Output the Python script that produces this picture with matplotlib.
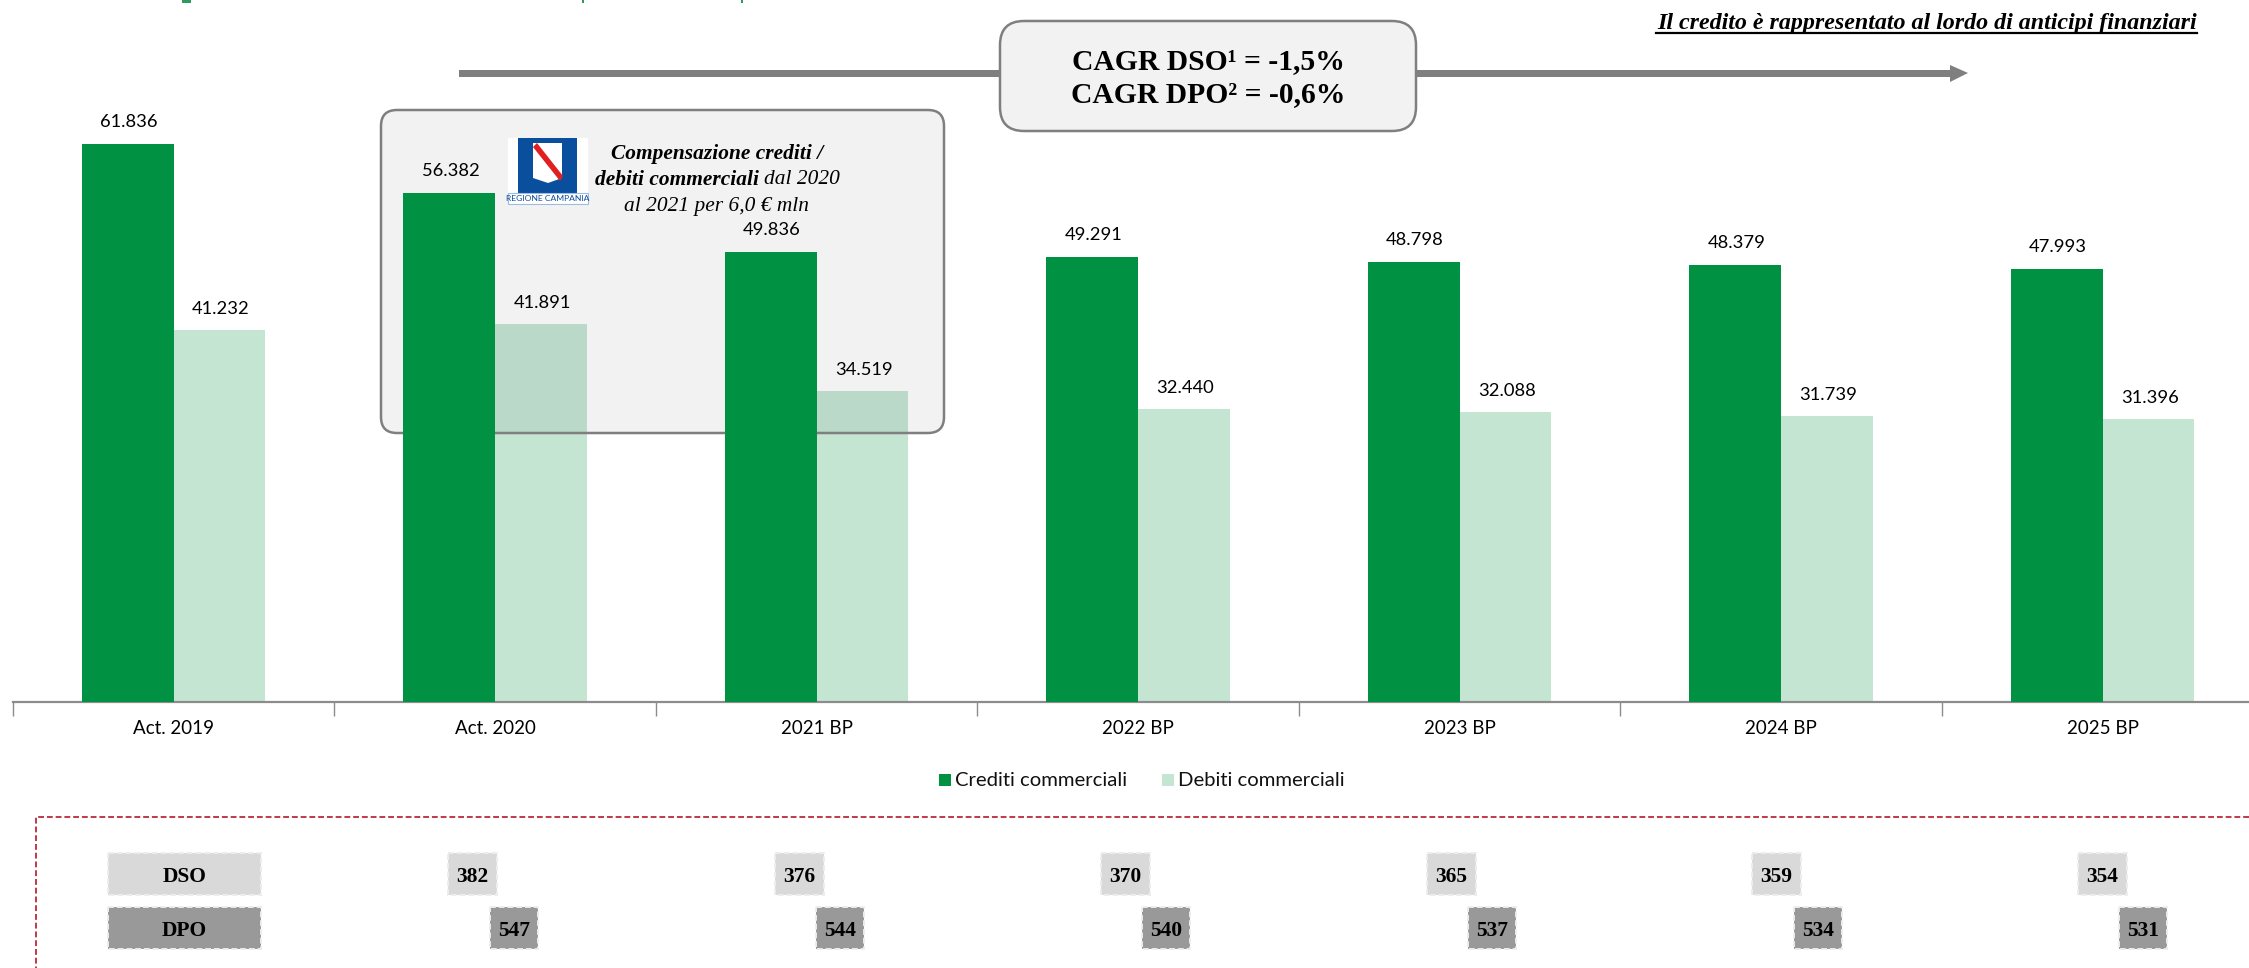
import matplotlib
matplotlib.use("Agg")
import matplotlib.pyplot as plt
from matplotlib.patches import FancyBboxPatch, Rectangle, Polygon

W, H = 2249, 968

categories = ["Act. 2019", "Act. 2020", "2021 BP", "2022 BP", "2023 BP", "2024 BP", "2025 BP"]
crediti = [61836, 56382, 49836, 49291, 48798, 48379, 47993]
debiti = [41232, 41891, 34519, 32440, 32088, 31739, 31396]
dso = [382, 376, 370, 365, 359, 354]
dpo = [547, 544, 540, 537, 534, 531]

GREEN = "#009142"
LIGHT = "#C5E5D3"
SERIF = "Liberation Serif"
SANS = "Lato"

fig = plt.figure(figsize=(W / 100, H / 100), dpi=100)

# overlay in pixel coords (y down), for the slide shapes around the chart
ov = fig.add_axes([0, 0, 1, 1], zorder=2)
ov.set_xlim(0, W)
ov.set_ylim(H, 0)
ov.axis("off")
ov.patch.set_alpha(0)

# chart axes: baseline at y=702 px, first tick at x=12.8 px
x0, step = 12.8, 321.5
base = 702
ax = fig.add_axes([x0 / W, (H - base) / H, (W - x0) / W, base / H], zorder=1)
ax.set_xlim(-0.5, (W - x0) / step - 0.5)
ax.set_ylim(0, base / 0.009024)
ax.patch.set_alpha(0)
for s in ["top", "left", "right"]:
    ax.spines[s].set_visible(False)
ax.spines["bottom"].set_color("#8c8c8c")
ax.spines["bottom"].set_linewidth(1.6)
ax.set_yticks([])

w = 0.286
xs = list(range(len(categories)))
ax.bar([x + w / 2 for x in xs], debiti, w, color=LIGHT, zorder=1)
ax.bar([x - w / 2 for x in xs], crediti, w, color=GREEN, zorder=3)

for x, v in zip(xs, crediti):
    ax.annotate(f"{v:,}".replace(",", "."), (x - w / 2, v), xytext=(1.5, 22), textcoords="offset pixels",
                ha="center", va="center", family=SANS, fontsize=13.2, color="black", zorder=6)
for x, v in zip(xs, debiti):
    ax.annotate(f"{v:,}".replace(",", "."), (x + w / 2, v), xytext=(1.5, 21), textcoords="offset pixels",
                ha="center", va="center", family=SANS, fontsize=13.2, color="black", zorder=6)

ax.set_xticks([x - 0.5 for x in xs])
ax.set_xticklabels([])
ax.tick_params(axis="x", length=10, width=1, color="#8c8c8c")
for x, c in zip(xs, categories):
    ax.annotate(c, (x, 0), xytext=(0, -27), textcoords="offset pixels", ha="center", va="center",
                family=SANS, fontsize=13.5, color="black")

# callout box sits over the light bars but under the dark ones
box = FancyBboxPatch((393, 122), 539, 299, boxstyle="round,pad=12,rounding_size=16",
                     transform=ov.transData, facecolor=(0, 0, 0, 0.05), edgecolor="#7f7f7f",
                     linewidth=1.8, zorder=2)
ax.add_patch(box)

# legend
for lx, col, txt, tx in [(939, GREEN, "Crediti commerciali", 955), (1162, LIGHT, "Debiti commerciali", 1178)]:
    ov.add_patch(Rectangle((lx, 774), 12, 12, facecolor=col, edgecolor="none"))
    ov.text(tx, 780, txt, ha="left", va="center", family=SANS, fontsize=14.6, color="#111111")

# what is left of the cropped slide title
for mx, mw in [(182, 9), (582, 2), (741, 2)]:
    ov.add_patch(Rectangle((mx, 0), mw, 3, facecolor="#2E9A5C", edgecolor="none"))

# top arrow
ov.add_patch(Rectangle((458.5, 70), 1495, 6.5, facecolor="#7f7f7f", edgecolor="none"))
ov.add_patch(Polygon([(1950, 65), (1968, 73), (1950, 82)], facecolor="#7f7f7f", edgecolor="none"))
ov.add_patch(FancyBboxPatch((1022, 43), 372, 66, boxstyle="round,pad=22,rounding_size=24",
                            facecolor="#F2F2F2", edgecolor="#7f7f7f", linewidth=1.8))
ov.text(1208, 62, "CAGR DSO¹ = -1,5%", ha="center", va="center", family=SERIF, weight="bold",
        fontsize=21.3, color="black")
ov.text(1208, 95, "CAGR DPO² = -0,6%", ha="center", va="center", family=SERIF, weight="bold",
        fontsize=21.3, color="black")

# note top right
ov.text(2197, 29, "Il credito è rappresentato al lordo di anticipi finanziari", ha="right", va="baseline",
        family=SERIF, weight="bold", style="italic", fontsize=17.3, color="black")
ov.plot([1656, 2197], [33, 33], color="black", lw=1.6)

# logo
ov.add_patch(Rectangle((508, 138), 80, 67, facecolor="white", edgecolor="none"))
ov.add_patch(Rectangle((518, 138), 59, 67, facecolor="#0A4F9E", edgecolor="none"))
ov.add_patch(Polygon([(533, 143), (562, 143), (562, 178), (548, 183), (533, 178)], facecolor="white", edgecolor="none"))
ov.add_patch(Polygon([(533, 147), (537, 143), (563, 176), (560, 181)], facecolor="#E02020", edgecolor="none"))
ov.add_patch(Rectangle((508, 193), 80, 11, facecolor="white", edgecolor="#9DBCE0", linewidth=0.8))
ov.text(548, 198.5, "REGIONE CAMPANIA", ha="center", va="center", family=SANS, fontsize=6.1, color="#0A4F9E")

# callout text
ov.text(717, 154, "Compensazione crediti /", ha="center", va="center", family=SERIF, weight="bold",
        style="italic", fontsize=15.4, color="black")
ov.text(595, 180, "debiti commerciali", ha="left", va="center", family=SERIF, weight="bold",
        style="italic", fontsize=15.4, color="black")
ov.text(764, 180, "dal 2020", ha="left", va="center", family=SERIF, style="italic", fontsize=15.4, color="black")
ov.text(717, 206, "al 2021 per 6,0 € mln", ha="center", va="center", family=SERIF, style="italic",
        fontsize=15.4, color="black")

# dashed frame, runs off the slide on the right and bottom
RED = "#C0394B"
ov.plot([W, 36, 36], [817, 817, H], color=RED, lw=1.4, dashes=(3, 1.5))


def pill(x1, x2, y1, y2, col, txt, size=15.5):
    ov.add_patch(Rectangle((x1, y1), x2 - x1, y2 - y1, facecolor=col, edgecolor="#EDEDED", linewidth=1.4,
                           linestyle=(0, (3, 1.5))))
    ov.text((x1 + x2) / 2, (y1 + y2) / 2 + 2.5, txt, ha="center", va="center", family=SERIF, weight="bold",
            fontsize=size, color="black")


LG, DG = "#D9D9D9", "#999999"
pill(108, 261, 853, 895, LG, "DSO")
pill(108, 261, 907, 949, DG, "DPO")
dso_left = [448, 775, 1101, 1427, 1752, 2078]
dpo_left = [490, 816, 1142, 1468, 1794, 2119]
for lft, v in zip(dso_left, dso):
    pill(lft, lft + 49, 853, 895, LG, str(v))
for lft, v in zip(dpo_left, dpo):
    pill(lft, lft + 48, 907, 949, DG, str(v))

fig.savefig("out.png", dpi=100)
